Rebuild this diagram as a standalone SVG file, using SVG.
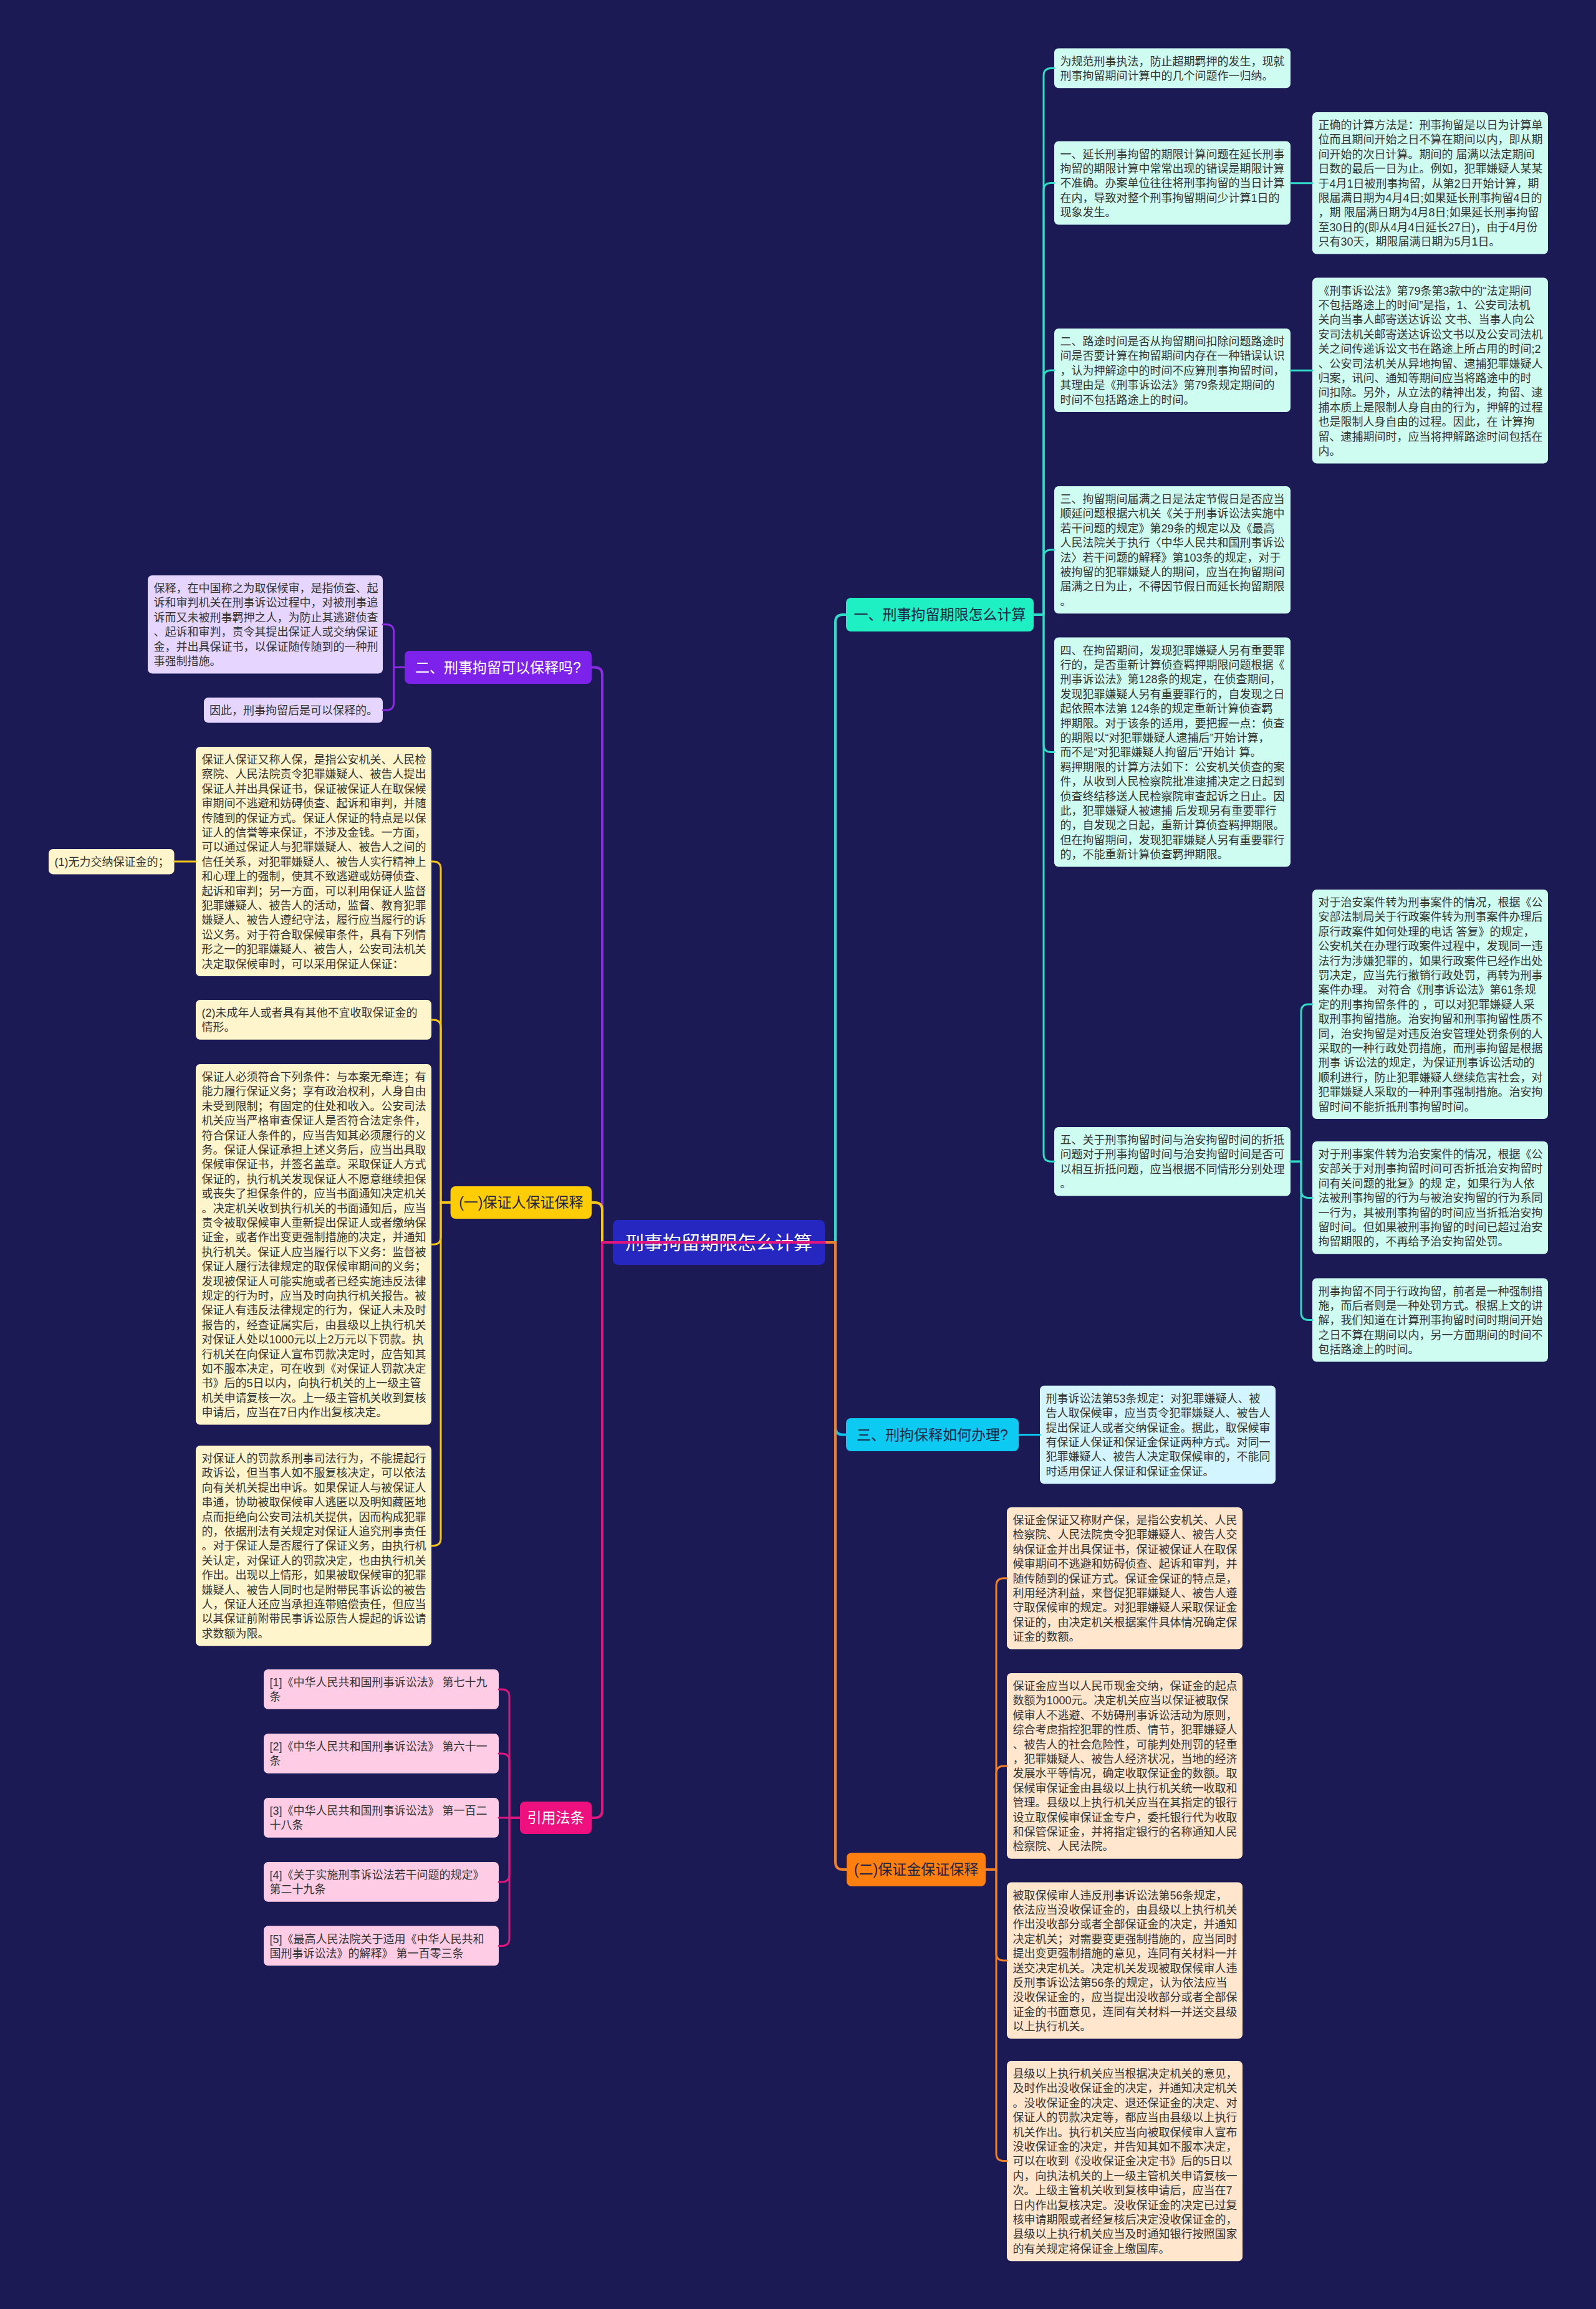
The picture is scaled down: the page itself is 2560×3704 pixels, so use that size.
<svg xmlns="http://www.w3.org/2000/svg" width="2560" height="3704" viewBox="0 0 2560 3704">
<style>
.t{font-family:"Liberation Sans","Noto Sans CJK SC",sans-serif;font-size:18px;fill:#333333}
.n{font-family:"Liberation Sans","Noto Sans CJK SC",sans-serif;font-size:23px;text-anchor:middle}
.dk{fill:#1f2445}
.wh{fill:#ffffff}
.bT{fill:#cffcf1}
.bC{fill:#d3f5ff}
.bO{fill:#ffe6cc}
.bY{fill:#fff5cc}
.bP{fill:#e6d6ff}
.bM{fill:#ffcce5}
.c{fill:none;stroke-width:3;stroke-linecap:round;stroke-linejoin:round}
.r{stroke-width:4}
.sT{stroke:#30dcc6}
.sC{stroke:#0cc6ee}
.sO{stroke:#f07f2a}
.sY{stroke:#f5c518}
.sP{stroke:#8a2be2}
.sM{stroke:#e0157e}
</style>
<rect x="0" y="0" width="2560" height="3704" fill="#1b1a54"/>

<g id="nodes">
<g id="root"><rect x="983" y="1957" width="340" height="72" rx="8" fill="#2626c0"/><text class="n wh" x="1153" y="2004" style="font-size:30px">刑事拘留期限怎么计算</text></g>

<g id="n1"><rect x="1357" y="959" width="301" height="54" rx="8" fill="#1ef0c4"/><text class="n dk" x="1507.5" y="994">一、刑事拘留期限怎么计算</text></g>
<g id="n2"><rect x="649" y="1044" width="300" height="53" rx="8" fill="#7d22ea"/><text class="n wh" x="799" y="1078.5">二、刑事拘留可以保释吗?</text></g>
<g id="n3"><rect x="1357" y="2275" width="277" height="53" rx="8" fill="#0ccaf2"/><text class="n dk" x="1495.5" y="2309.5">三、刑拘保释如何办理?</text></g>
<g id="nA"><rect x="722.6" y="1903" width="226.4" height="52" rx="8" fill="#ffcd05"/><text class="n dk" x="835.8" y="1937">(一)保证人保证保释</text></g>
<g id="nB"><rect x="1358" y="2972" width="223" height="54" rx="8" fill="#ff8010"/><text class="n dk" x="1469.5" y="3007">(二)保证金保证保释</text></g>
<g id="nR"><rect x="834" y="2890" width="115" height="52" rx="8" fill="#ee107f"/><text class="n wh" x="891.5" y="2924">引用法条</text></g>

<g id="intro"><rect class="bT" x="1691" y="77.5" width="379" height="63.8" rx="7"/><text class="t" x="1700.5" y="104.5"><tspan x="1700.5">为规范刑事执法，防止超期羁押的发生，现就</tspan><tspan x="1700.5" dy="23.4">刑事拘留期间计算中的几个问题作一归纳。</tspan></text></g>

<g id="yanchang"><rect class="bT" x="1691" y="226.6" width="379" height="134" rx="7"/><text class="t" x="1700.5" y="253.6"><tspan x="1700.5">一、延长刑事拘留的期限计算问题在延长刑事</tspan><tspan x="1700.5" dy="23.4">拘留的期限计算中常常出现的错误是期限计算</tspan><tspan x="1700.5" dy="23.4">不准确。办案单位往往将刑事拘留的当日计算</tspan><tspan x="1700.5" dy="23.4">在内，导致对整个刑事拘留期间少计算1日的</tspan><tspan x="1700.5" dy="23.4">现象发生。</tspan></text></g>

<g id="zhengque"><rect class="bT" x="2105" y="180" width="378" height="227.6" rx="7"/><text class="t" x="2114.5" y="207"><tspan x="2114.5">正确的计算方法是：刑事拘留是以日为计算单</tspan><tspan x="2114.5" dy="23.4">位而且期间开始之日不算在期间以内，即从期</tspan><tspan x="2114.5" dy="23.4">间开始的次日计算。期间的 届满以法定期间</tspan><tspan x="2114.5" dy="23.4">日数的最后一日为止。例如，犯罪嫌疑人某某</tspan><tspan x="2114.5" dy="23.4">于4月1日被刑事拘留，从第2日开始计算，期</tspan><tspan x="2114.5" dy="23.4">限届满日期为4月4日;如果延长刑事拘留4日的</tspan><tspan x="2114.5" dy="23.4">，期 限届满日期为4月8日;如果延长刑事拘留</tspan><tspan x="2114.5" dy="23.4">至30日的(即从4月4日延长27日)，由于4月份</tspan><tspan x="2114.5" dy="23.4">只有30天，期限届满日期为5月1日。</tspan></text></g>

<g id="lutu"><rect class="bT" x="1691" y="527" width="379" height="134" rx="7"/><text class="t" x="1700.5" y="554"><tspan x="1700.5">二、路途时间是否从拘留期间扣除问题路途时</tspan><tspan x="1700.5" dy="23.4">间是否要计算在拘留期间内存在一种错误认识</tspan><tspan x="1700.5" dy="23.4">，认为押解途中的时间不应算刑事拘留时间，</tspan><tspan x="1700.5" dy="23.4">其理由是《刑事诉讼法》第79条规定期间的</tspan><tspan x="1700.5" dy="23.4">时间不包括路途上的时间。</tspan></text></g>

<g id="xingsu79"><rect class="bT" x="2105" y="445.6" width="378" height="297.8" rx="7"/><text class="t" x="2114.5" y="472.6"><tspan x="2114.5">《刑事诉讼法》第79条第3款中的“法定期间</tspan><tspan x="2114.5" dy="23.4">不包括路途上的时间”是指，1、公安司法机</tspan><tspan x="2114.5" dy="23.4">关向当事人邮寄送达诉讼 文书、当事人向公</tspan><tspan x="2114.5" dy="23.4">安司法机关邮寄送达诉讼文书以及公安司法机</tspan><tspan x="2114.5" dy="23.4">关之间传递诉讼文书在路途上所占用的时间;2</tspan><tspan x="2114.5" dy="23.4">、公安司法机关从异地拘留、逮捕犯罪嫌疑人</tspan><tspan x="2114.5" dy="23.4">归案，讯问、通知等期间应当将路途中的时</tspan><tspan x="2114.5" dy="23.4">间扣除。另外，从立法的精神出发，拘留、逮</tspan><tspan x="2114.5" dy="23.4">捕本质上是限制人身自由的行为，押解的过程</tspan><tspan x="2114.5" dy="23.4">也是限制人身自由的过程。因此，在 计算拘</tspan><tspan x="2114.5" dy="23.4">留、逮捕期间时，应当将押解路途时间包括在</tspan><tspan x="2114.5" dy="23.4">内。</tspan></text></g>

<g id="jieman"><rect class="bT" x="1691" y="780" width="379" height="204.2" rx="7"/><text class="t" x="1700.5" y="807"><tspan x="1700.5">三、拘留期间届满之日是法定节假日是否应当</tspan><tspan x="1700.5" dy="23.4">顺延问题根据六机关《关于刑事诉讼法实施中</tspan><tspan x="1700.5" dy="23.4">若干问题的规定》第29条的规定以及《最高</tspan><tspan x="1700.5" dy="23.4">人民法院关于执行〈中华人民共和国刑事诉讼</tspan><tspan x="1700.5" dy="23.4">法〉若干问题的解释》第103条的规定，对于</tspan><tspan x="1700.5" dy="23.4">被拘留的犯罪嫌疑人的期间，应当在拘留期间</tspan><tspan x="1700.5" dy="23.4">届满之日为止，不得因节假日而延长拘留期限</tspan><tspan x="1700.5" dy="23.4">。</tspan></text></g>

<g id="chongxin"><rect class="bT" x="1691" y="1022.5" width="379" height="368" rx="7"/><text class="t" x="1700.5" y="1049.5"><tspan x="1700.5">四、在拘留期间，发现犯罪嫌疑人另有重要罪</tspan><tspan x="1700.5" dy="23.4">行的，是否重新计算侦查羁押期限问题根据《</tspan><tspan x="1700.5" dy="23.4">刑事诉讼法》第128条的规定，在侦查期间，</tspan><tspan x="1700.5" dy="23.4">发现犯罪嫌疑人另有重要罪行的，自发现之日</tspan><tspan x="1700.5" dy="23.4">起依照本法第 124条的规定重新计算侦查羁</tspan><tspan x="1700.5" dy="23.4">押期限。对于该条的适用，要把握一点：侦查</tspan><tspan x="1700.5" dy="23.4">的期限以“对犯罪嫌疑人逮捕后”开始计算，</tspan><tspan x="1700.5" dy="23.4">而不是“对犯罪嫌疑人拘留后”开始计 算。</tspan><tspan x="1700.5" dy="23.4">羁押期限的计算方法如下：公安机关侦查的案</tspan><tspan x="1700.5" dy="23.4">件，从收到人民检察院批准逮捕决定之日起到</tspan><tspan x="1700.5" dy="23.4">侦查终结移送人民检察院审查起诉之日止。因</tspan><tspan x="1700.5" dy="23.4">此，犯罪嫌疑人被逮捕 后发现另有重要罪行</tspan><tspan x="1700.5" dy="23.4">的，自发现之日起，重新计算侦查羁押期限。</tspan><tspan x="1700.5" dy="23.4">但在拘留期间，发现犯罪嫌疑人另有重要罪行</tspan><tspan x="1700.5" dy="23.4">的，不能重新计算侦查羁押期限。</tspan></text></g>

<g id="zhedi"><rect class="bT" x="1691" y="1808" width="379" height="110.6" rx="7"/><text class="t" x="1700.5" y="1835"><tspan x="1700.5">五、关于刑事拘留时间与治安拘留时间的折抵</tspan><tspan x="1700.5" dy="23.4">问题对于刑事拘留时间与治安拘留时间是否可</tspan><tspan x="1700.5" dy="23.4">以相互折抵问题，应当根据不同情形分别处理</tspan><tspan x="1700.5" dy="23.4">。</tspan></text></g>

<g id="zhian"><rect class="bT" x="2105" y="1427" width="378" height="368" rx="7"/><text class="t" x="2114.5" y="1454"><tspan x="2114.5">对于治安案件转为刑事案件的情况，根据《公</tspan><tspan x="2114.5" dy="23.4">安部法制局关于行政案件转为刑事案件办理后</tspan><tspan x="2114.5" dy="23.4">原行政案件如何处理的电话 答复》的规定，</tspan><tspan x="2114.5" dy="23.4">公安机关在办理行政案件过程中，发现同一违</tspan><tspan x="2114.5" dy="23.4">法行为涉嫌犯罪的，如果行政案件已经作出处</tspan><tspan x="2114.5" dy="23.4">罚决定，应当先行撤销行政处罚，再转为刑事</tspan><tspan x="2114.5" dy="23.4">案件办理。 对符合《刑事诉讼法》第61条规</tspan><tspan x="2114.5" dy="23.4">定的刑事拘留条件的 ，可以对犯罪嫌疑人采</tspan><tspan x="2114.5" dy="23.4">取刑事拘留措施。治安拘留和刑事拘留性质不</tspan><tspan x="2114.5" dy="23.4">同，治安拘留是对违反治安管理处罚条例的人</tspan><tspan x="2114.5" dy="23.4">采取的一种行政处罚措施，而刑事拘留是根据</tspan><tspan x="2114.5" dy="23.4">刑事 诉讼法的规定，为保证刑事诉讼活动的</tspan><tspan x="2114.5" dy="23.4">顺利进行，防止犯罪嫌疑人继续危害社会，对</tspan><tspan x="2114.5" dy="23.4">犯罪嫌疑人采取的一种刑事强制措施。治安拘</tspan><tspan x="2114.5" dy="23.4">留时间不能折抵刑事拘留时间。</tspan></text></g>

<g id="xingshi"><rect class="bT" x="2105" y="1831" width="378" height="180.8" rx="7"/><text class="t" x="2114.5" y="1858"><tspan x="2114.5">对于刑事案件转为治安案件的情况，根据《公</tspan><tspan x="2114.5" dy="23.4">安部关于对刑事拘留时间可否折抵治安拘留时</tspan><tspan x="2114.5" dy="23.4">间有关问题的批复》的规 定，如果行为人依</tspan><tspan x="2114.5" dy="23.4">法被刑事拘留的行为与被治安拘留的行为系同</tspan><tspan x="2114.5" dy="23.4">一行为，其被刑事拘留的时间应当折抵治安拘</tspan><tspan x="2114.5" dy="23.4">留时间。但如果被刑事拘留的时间已超过治安</tspan><tspan x="2114.5" dy="23.4">拘留期限的，不再给予治安拘留处罚。</tspan></text></g>

<g id="butong"><rect class="bT" x="2105" y="2050.5" width="378" height="134" rx="7"/><text class="t" x="2114.5" y="2077.5"><tspan x="2114.5">刑事拘留不同于行政拘留，前者是一种强制措</tspan><tspan x="2114.5" dy="23.4">施，而后者则是一种处罚方式。根据上文的讲</tspan><tspan x="2114.5" dy="23.4">解，我们知道在计算刑事拘留时间时期间开始</tspan><tspan x="2114.5" dy="23.4">之日不算在期间以内，另一方面期间的时间不</tspan><tspan x="2114.5" dy="23.4">包括路途上的时间。</tspan></text></g>

<g id="tiao53"><rect class="bC" x="1668" y="2222.8" width="378" height="157.4" rx="7"/><text class="t" x="1677.5" y="2249.8"><tspan x="1677.5">刑事诉讼法第53条规定：对犯罪嫌疑人、被</tspan><tspan x="1677.5" dy="23.4">告人取保候审，应当责令犯罪嫌疑人、被告人</tspan><tspan x="1677.5" dy="23.4">提出保证人或者交纳保证金。据此，取保候审</tspan><tspan x="1677.5" dy="23.4">有保证人保证和保证金保证两种方式。对同一</tspan><tspan x="1677.5" dy="23.4">犯罪嫌疑人、被告人决定取保候审的，不能同</tspan><tspan x="1677.5" dy="23.4">时适用保证人保证和保证金保证。</tspan></text></g>

<g id="bzj1"><rect class="bO" x="1615" y="2418" width="378" height="227.6" rx="7"/><text class="t" x="1624.5" y="2445"><tspan x="1624.5">保证金保证又称财产保，是指公安机关、人民</tspan><tspan x="1624.5" dy="23.4">检察院、人民法院责令犯罪嫌疑人、被告人交</tspan><tspan x="1624.5" dy="23.4">纳保证金并出具保证书，保证被保证人在取保</tspan><tspan x="1624.5" dy="23.4">候审期间不逃避和妨碍侦查、起诉和审判，并</tspan><tspan x="1624.5" dy="23.4">随传随到的保证方式。保证金保证的特点是，</tspan><tspan x="1624.5" dy="23.4">利用经济利益，来督促犯罪嫌疑人、被告人遵</tspan><tspan x="1624.5" dy="23.4">守取保候审的规定。对犯罪嫌疑人采取保证金</tspan><tspan x="1624.5" dy="23.4">保证的，由决定机关根据案件具体情况确定保</tspan><tspan x="1624.5" dy="23.4">证金的数额。</tspan></text></g>

<g id="bzj2"><rect class="bO" x="1615" y="2684" width="378" height="297.8" rx="7"/><text class="t" x="1624.5" y="2711"><tspan x="1624.5">保证金应当以人民币现金交纳，保证金的起点</tspan><tspan x="1624.5" dy="23.4">数额为1000元。决定机关应当以保证被取保</tspan><tspan x="1624.5" dy="23.4">候审人不逃避、不妨碍刑事诉讼活动为原则，</tspan><tspan x="1624.5" dy="23.4">综合考虑指控犯罪的性质、情节，犯罪嫌疑人</tspan><tspan x="1624.5" dy="23.4">、被告人的社会危险性，可能判处刑罚的轻重</tspan><tspan x="1624.5" dy="23.4">，犯罪嫌疑人、被告人经济状况，当地的经济</tspan><tspan x="1624.5" dy="23.4">发展水平等情况，确定收取保证金的数额。取</tspan><tspan x="1624.5" dy="23.4">保候审保证金由县级以上执行机关统一收取和</tspan><tspan x="1624.5" dy="23.4">管理。县级以上执行机关应当在其指定的银行</tspan><tspan x="1624.5" dy="23.4">设立取保候审保证金专户，委托银行代为收取</tspan><tspan x="1624.5" dy="23.4">和保管保证金，并将指定银行的名称通知人民</tspan><tspan x="1624.5" dy="23.4">检察院、人民法院。</tspan></text></g>

<g id="bzj3"><rect class="bO" x="1615" y="3019.6" width="378" height="251" rx="7"/><text class="t" x="1624.5" y="3046.6"><tspan x="1624.5">被取保候审人违反刑事诉讼法第56条规定，</tspan><tspan x="1624.5" dy="23.4">依法应当没收保证金的，由县级以上执行机关</tspan><tspan x="1624.5" dy="23.4">作出没收部分或者全部保证金的决定，并通知</tspan><tspan x="1624.5" dy="23.4">决定机关；对需要变更强制措施的，应当同时</tspan><tspan x="1624.5" dy="23.4">提出变更强制措施的意见，连同有关材料一并</tspan><tspan x="1624.5" dy="23.4">送交决定机关。决定机关发现被取保候审人违</tspan><tspan x="1624.5" dy="23.4">反刑事诉讼法第56条的规定，认为依法应当</tspan><tspan x="1624.5" dy="23.4">没收保证金的，应当提出没收部分或者全部保</tspan><tspan x="1624.5" dy="23.4">证金的书面意见，连同有关材料一并送交县级</tspan><tspan x="1624.5" dy="23.4">以上执行机关。</tspan></text></g>

<g id="bzj4"><rect class="bO" x="1615" y="3306" width="378" height="321.2" rx="7"/><text class="t" x="1624.5" y="3333"><tspan x="1624.5">县级以上执行机关应当根据决定机关的意见，</tspan><tspan x="1624.5" dy="23.4">及时作出没收保证金的决定，并通知决定机关</tspan><tspan x="1624.5" dy="23.4">。没收保证金的决定、退还保证金的决定、对</tspan><tspan x="1624.5" dy="23.4">保证人的罚款决定等，都应当由县级以上执行</tspan><tspan x="1624.5" dy="23.4">机关作出。执行机关应当向被取保候审人宣布</tspan><tspan x="1624.5" dy="23.4">没收保证金的决定，并告知其如不服本决定，</tspan><tspan x="1624.5" dy="23.4">可以在收到《没收保证金决定书》后的5日以</tspan><tspan x="1624.5" dy="23.4">内，向执法机关的上一级主管机关申请复核一</tspan><tspan x="1624.5" dy="23.4">次。上级主管机关收到复核申请后，应当在7</tspan><tspan x="1624.5" dy="23.4">日内作出复核决定。没收保证金的决定已过复</tspan><tspan x="1624.5" dy="23.4">核申请期限或者经复核后决定没收保证金的，</tspan><tspan x="1624.5" dy="23.4">县级以上执行机关应当及时通知银行按照国家</tspan><tspan x="1624.5" dy="23.4">的有关规定将保证金上缴国库。</tspan></text></g>

<g id="baoshi"><rect class="bP" x="237" y="923" width="377" height="157.4" rx="7"/><text class="t" x="246.5" y="950"><tspan x="246.5">保释，在中国称之为取保候审，是指侦查、起</tspan><tspan x="246.5" dy="23.4">诉和审判机关在刑事诉讼过程中，对被刑事追</tspan><tspan x="246.5" dy="23.4">诉而又未被刑事羁押之人，为防止其逃避侦查</tspan><tspan x="246.5" dy="23.4">、起诉和审判，责令其提出保证人或交纳保证</tspan><tspan x="246.5" dy="23.4">金，并出具保证书，以保证随传随到的一种刑</tspan><tspan x="246.5" dy="23.4">事强制措施。</tspan></text></g>

<g id="yinci"><rect class="bP" x="327" y="1119" width="287" height="40.4" rx="7"/><text class="t" x="336" y="1146">因此，刑事拘留后是可以保释的。</text></g>

<g id="bzr1"><rect class="bY" x="314" y="1198" width="378" height="368" rx="7"/><text class="t" x="323.5" y="1225"><tspan x="323.5">保证人保证又称人保，是指公安机关、人民检</tspan><tspan x="323.5" dy="23.4">察院、人民法院责令犯罪嫌疑人、被告人提出</tspan><tspan x="323.5" dy="23.4">保证人并出具保证书，保证被保证人在取保候</tspan><tspan x="323.5" dy="23.4">审期间不逃避和妨碍侦查、起诉和审判，并随</tspan><tspan x="323.5" dy="23.4">传随到的保证方式。保证人保证的特点是以保</tspan><tspan x="323.5" dy="23.4">证人的信誉等来保证，不涉及金钱。一方面，</tspan><tspan x="323.5" dy="23.4">可以通过保证人与犯罪嫌疑人、被告人之间的</tspan><tspan x="323.5" dy="23.4">信任关系，对犯罪嫌疑人、被告人实行精神上</tspan><tspan x="323.5" dy="23.4">和心理上的强制，使其不致逃避或妨碍侦查、</tspan><tspan x="323.5" dy="23.4">起诉和审判；另一方面，可以利用保证人监督</tspan><tspan x="323.5" dy="23.4">犯罪嫌疑人、被告人的活动，监督、教育犯罪</tspan><tspan x="323.5" dy="23.4">嫌疑人、被告人遵纪守法，履行应当履行的诉</tspan><tspan x="323.5" dy="23.4">讼义务。对于符合取保候审条件，具有下列情</tspan><tspan x="323.5" dy="23.4">形之一的犯罪嫌疑人、被告人，公安司法机关</tspan><tspan x="323.5" dy="23.4">决定取保候审时，可以采用保证人保证：</tspan></text></g>

<g id="wuli"><rect class="bY" x="78" y="1362" width="201.5" height="40.4" rx="7"/><text class="t" x="87.5" y="1389">(1)无力交纳保证金的；</text></g>

<g id="bzr2"><rect class="bY" x="314" y="1604" width="378" height="63.8" rx="7"/><text class="t" x="323.5" y="1631"><tspan x="323.5">(2)未成年人或者具有其他不宜收取保证金的</tspan><tspan x="323.5" dy="23.4">情形。</tspan></text></g>

<g id="bzr3"><rect class="bY" x="314" y="1707" width="378" height="578.6" rx="7"/><text class="t" x="323.5" y="1734"><tspan x="323.5">保证人必须符合下列条件：与本案无牵连；有</tspan><tspan x="323.5" dy="23.4">能力履行保证义务；享有政治权利，人身自由</tspan><tspan x="323.5" dy="23.4">未受到限制；有固定的住处和收入。公安司法</tspan><tspan x="323.5" dy="23.4">机关应当严格审查保证人是否符合法定条件，</tspan><tspan x="323.5" dy="23.4">符合保证人条件的，应当告知其必须履行的义</tspan><tspan x="323.5" dy="23.4">务。保证人保证承担上述义务后，应当出具取</tspan><tspan x="323.5" dy="23.4">保候审保证书，并签名盖章。采取保证人方式</tspan><tspan x="323.5" dy="23.4">保证的，执行机关发现保证人不愿意继续担保</tspan><tspan x="323.5" dy="23.4">或丧失了担保条件的，应当书面通知决定机关</tspan><tspan x="323.5" dy="23.4">。决定机关收到执行机关的书面通知后，应当</tspan><tspan x="323.5" dy="23.4">责令被取保候审人重新提出保证人或者缴纳保</tspan><tspan x="323.5" dy="23.4">证金，或者作出变更强制措施的决定，并通知</tspan><tspan x="323.5" dy="23.4">执行机关。保证人应当履行以下义务：监督被</tspan><tspan x="323.5" dy="23.4">保证人履行法律规定的取保候审期间的义务；</tspan><tspan x="323.5" dy="23.4">发现被保证人可能实施或者已经实施违反法律</tspan><tspan x="323.5" dy="23.4">规定的行为时，应当及时向执行机关报告。被</tspan><tspan x="323.5" dy="23.4">保证人有违反法律规定的行为，保证人未及时</tspan><tspan x="323.5" dy="23.4">报告的，经查证属实后，由县级以上执行机关</tspan><tspan x="323.5" dy="23.4">对保证人处以1000元以上2万元以下罚款。执</tspan><tspan x="323.5" dy="23.4">行机关在向保证人宣布罚款决定时，应告知其</tspan><tspan x="323.5" dy="23.4">如不服本决定，可在收到《对保证人罚款决定</tspan><tspan x="323.5" dy="23.4">书》后的5日以内，向执行机关的上一级主管</tspan><tspan x="323.5" dy="23.4">机关申请复核一次。上一级主管机关收到复核</tspan><tspan x="323.5" dy="23.4">申请后，应当在7日内作出复核决定。</tspan></text></g>

<g id="bzr4"><rect class="bY" x="314" y="2319" width="378" height="321.2" rx="7"/><text class="t" x="323.5" y="2346"><tspan x="323.5">对保证人的罚款系刑事司法行为，不能提起行</tspan><tspan x="323.5" dy="23.4">政诉讼，但当事人如不服复核决定，可以依法</tspan><tspan x="323.5" dy="23.4">向有关机关提出申诉。如果保证人与被保证人</tspan><tspan x="323.5" dy="23.4">串通，协助被取保候审人逃匿以及明知藏匿地</tspan><tspan x="323.5" dy="23.4">点而拒绝向公安司法机关提供，因而构成犯罪</tspan><tspan x="323.5" dy="23.4">的，依据刑法有关规定对保证人追究刑事责任</tspan><tspan x="323.5" dy="23.4">。对于保证人是否履行了保证义务，由执行机</tspan><tspan x="323.5" dy="23.4">关认定，对保证人的罚款决定，也由执行机关</tspan><tspan x="323.5" dy="23.4">作出。出现以上情形，如果被取保候审的犯罪</tspan><tspan x="323.5" dy="23.4">嫌疑人、被告人同时也是附带民事诉讼的被告</tspan><tspan x="323.5" dy="23.4">人，保证人还应当承担连带赔偿责任，但应当</tspan><tspan x="323.5" dy="23.4">以其保证前附带民事诉讼原告人提起的诉讼请</tspan><tspan x="323.5" dy="23.4">求数额为限。</tspan></text></g>

<g id="ref1"><rect class="bM" x="423" y="2678" width="377" height="63.8" rx="7"/><text class="t" x="432.5" y="2705"><tspan x="432.5">[1]《中华人民共和国刑事诉讼法》 第七十九</tspan><tspan x="432.5" dy="23.4">条</tspan></text></g>
<g id="ref2"><rect class="bM" x="423" y="2781" width="377" height="63.8" rx="7"/><text class="t" x="432.5" y="2808"><tspan x="432.5">[2]《中华人民共和国刑事诉讼法》 第六十一</tspan><tspan x="432.5" dy="23.4">条</tspan></text></g>
<g id="ref3"><rect class="bM" x="423" y="2884" width="377" height="63.8" rx="7"/><text class="t" x="432.5" y="2911"><tspan x="432.5">[3]《中华人民共和国刑事诉讼法》 第一百二</tspan><tspan x="432.5" dy="23.4">十八条</tspan></text></g>
<g id="ref4"><rect class="bM" x="423" y="2987" width="377" height="63.8" rx="7"/><text class="t" x="432.5" y="3014"><tspan x="432.5">[4]《关于实施刑事诉讼法若干问题的规定》</tspan><tspan x="432.5" dy="23.4">第二十九条</tspan></text></g>
<g id="ref5"><rect class="bM" x="423" y="3089.5" width="377" height="63.8" rx="7"/><text class="t" x="432.5" y="3116.5"><tspan x="432.5">[5]《最高人民法院关于适用《中华人民共和</tspan><tspan x="432.5" dy="23.4">国刑事诉讼法》的解释》 第一百零三条</tspan></text></g>
</g>

<g id="connectors">
<path class="c r sT" d="M1323 1993 H1340 V998 Q1340 986 1352 986 H1357"/>
<path class="c r sC" d="M1323 1993 H1340 V2289.5 Q1340 2301.5 1352 2301.5 H1357"/>
<path class="c r sO" d="M1323 1993 H1340 V2987 Q1340 2999 1352 2999 H1358"/>
<path class="c r sP" d="M1323 1993 H966 V1082.5 Q966 1070.5 954 1070.5 H949"/>
<path class="c r sY" d="M1323 1993 H966 V1941 Q966 1929 954 1929 H949"/>
<path class="c r sM" d="M1323 1993 H966 V2904 Q966 2916 954 2916 H949"/>

<path class="c sT" d="M1658 986 H1674 V121.4 Q1674 109.4 1686 109.4 H1691"/>
<path class="c sT" d="M1658 986 H1674 V305.6 Q1674 293.6 1686 293.6 H1691"/>
<path class="c sT" d="M1658 986 H1674 V606 Q1674 594 1686 594 H1691"/>
<path class="c sT" d="M1658 986 H1674 V894 Q1674 882 1686 882 H1691"/>
<path class="c sT" d="M1658 986 H1674 V1194.5 Q1674 1206.5 1686 1206.5 H1691"/>
<path class="c sT" d="M1658 986 H1674 V1851.3 Q1674 1863.3 1686 1863.3 H1691"/>
<path class="c sT" d="M2070 293.7 H2105"/>
<path class="c sT" d="M2070 594.2 H2105"/>
<path class="c sT" d="M2070 1863.3 H2087 V1623 Q2087 1611 2099 1611 H2105"/>
<path class="c sT" d="M2070 1863.3 H2087 V1909.4 Q2087 1921.4 2099 1921.4 H2105"/>
<path class="c sT" d="M2070 1863.3 H2087 V2105.5 Q2087 2117.5 2099 2117.5 H2105"/>

<path class="c sC" d="M1634 2301.5 H1668"/>

<path class="c sO" d="M1581 2999 H1598 V2543.8 Q1598 2531.8 1610 2531.8 H1615"/>
<path class="c sO" d="M1581 2999 H1598 V2844.9 Q1598 2832.9 1610 2832.9 H1615"/>
<path class="c sO" d="M1581 2999 H1598 V3133 Q1598 3145 1610 3145 H1615"/>
<path class="c sO" d="M1581 2999 H1598 V3454.6 Q1598 3466.6 1610 3466.6 H1615"/>

<path class="c sP" d="M649 1070.5 H631.6 V1013.7 Q631.6 1001.7 619.6 1001.7 H614"/>
<path class="c sP" d="M649 1070.5 H631.6 V1127.2 Q631.6 1139.2 619.6 1139.2 H614"/>

<path class="c sY" d="M722.6 1929 H707 V1394 Q707 1382 695 1382 H692"/>
<path class="c sY" d="M722.6 1929 H707 V1647.9 Q707 1635.9 695 1635.9 H692"/>
<path class="c sY" d="M722.6 1929 H707 V1984.3 Q707 1996.3 695 1996.3 H692"/>
<path class="c sY" d="M722.6 1929 H707 V2467.6 Q707 2479.6 695 2479.6 H692"/>
<path class="c sY" d="M314 1382 H279.5"/>

<path class="c sM" d="M834 2916 H817 V2721.9 Q817 2709.9 805 2709.9 H800"/>
<path class="c sM" d="M834 2916 H817 V2824.9 Q817 2812.9 805 2812.9 H800"/>
<path class="c sM" d="M834 2916 H800"/>
<path class="c sM" d="M834 2916 H817 V3006.9 Q817 3018.9 805 3018.9 H800"/>
<path class="c sM" d="M834 2916 H817 V3109.4 Q817 3121.4 805 3121.4 H800"/>
</g>
</svg>
